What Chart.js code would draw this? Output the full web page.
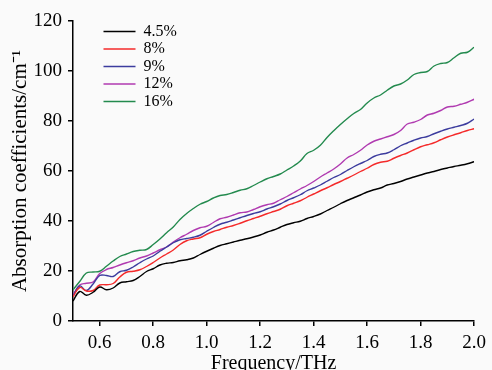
<!DOCTYPE html>
<html>
<head>
<meta charset="utf-8">
<script src="https://cdn.jsdelivr.net/npm/chart.js@4"></script>
<style>
  html, body { margin: 0; padding: 0; background: #fafafa; }
  #wrap { width: 492px; height: 370px; }
</style>
</head>
<body>
<div id="wrap"><canvas id="absorption-canvas"></canvas></div>
<script>
// Частота, THz
const freq = [
  0.5, 0.525, 0.55, 0.575, 0.6, 0.625, 0.65, 0.675, 0.7, 0.725, 0.75, 0.775, 0.8, 0.825, 0.85, 0.875, 0.9, 0.925, 0.95, 0.975, 1.0,
  1.025, 1.05, 1.075, 1.1, 1.125, 1.15, 1.175, 1.2, 1.225, 1.25, 1.275, 1.3, 1.325, 1.35, 1.375, 1.4, 1.425, 1.45, 1.475, 1.5,
  1.525, 1.55, 1.575, 1.6, 1.625, 1.65, 1.675, 1.7, 1.725, 1.75, 1.775, 1.8, 1.825, 1.85, 1.875, 1.9, 1.925, 1.95, 1.975, 2.0
];

const seriesLabels = ['4.5%', '8%', '9%', '12%', '16%'];

const abs45 = [
  8.0, 11.8, 10.3, 11.5, 13.6, 12.5, 13.2, 15.2, 15.7, 16.2, 17.8, 19.8, 20.9, 22.4, 23.1, 23.4, 24.1, 24.5, 25.2, 26.6, 27.9,
  29.1, 30.2, 30.9, 31.6, 32.3, 32.9, 33.6, 34.4, 35.5, 36.4, 37.5, 38.6, 39.3, 39.9, 41.0, 41.8, 42.8, 44.2, 45.5, 46.9,
  48.2, 49.3, 50.4, 51.6, 52.5, 53.2, 54.4, 55.0, 55.8, 56.8, 57.6, 58.4, 59.2, 59.8, 60.6, 61.2, 61.8, 62.3, 62.9, 63.7
];
const abs8 = [
  9.7, 13.4, 12.0, 12.2, 14.4, 14.5, 15.0, 17.6, 19.5, 19.9, 20.5, 21.8, 23.4, 25.2, 26.8, 28.4, 30.6, 32.1, 32.8, 33.3, 34.7,
  35.8, 36.6, 37.5, 38.2, 39.1, 40.1, 41.0, 41.9, 42.9, 43.8, 44.7, 46.1, 47.1, 48.1, 49.5, 50.8, 52.1, 53.3, 54.6, 55.8,
  57.1, 58.4, 59.8, 61.1, 62.6, 63.5, 63.9, 65.1, 66.2, 67.2, 68.5, 69.7, 70.5, 71.3, 72.5, 73.6, 74.5, 75.3, 76.2, 76.9
];
const abs9 = [
  10.0, 14.0, 12.2, 14.8, 18.2, 18.2, 17.8, 19.7, 20.3, 21.6, 23.3, 24.8, 26.0, 27.9, 29.6, 31.3, 32.5, 33.0, 33.5, 34.3, 35.9,
  37.4, 38.7, 39.5, 40.4, 41.3, 42.2, 43.0, 43.7, 44.8, 45.7, 46.8, 48.2, 49.3, 50.5, 52.1, 53.2, 54.4, 55.9, 57.4, 58.6,
  60.2, 61.7, 63.0, 64.2, 65.8, 66.7, 67.2, 68.5, 70.1, 71.2, 72.3, 73.2, 73.8, 74.9, 75.9, 76.8, 77.5, 78.2, 79.1, 80.8
];
const abs12 = [
  10.4, 14.4, 15.1, 15.6, 19.0, 20.6, 21.4, 22.4, 23.3, 24.1, 25.2, 26.0, 27.2, 28.5, 29.6, 31.6, 33.3, 34.7, 36.2, 37.3, 37.9,
  39.4, 40.9, 41.5, 42.4, 43.3, 43.6, 44.6, 45.7, 46.5, 47.1, 48.5, 49.8, 51.3, 52.8, 54.2, 55.8, 57.6, 59.2, 60.8, 62.8,
  65.2, 66.6, 68.3, 70.4, 71.9, 72.8, 73.7, 74.6, 76.2, 78.8, 79.5, 80.6, 82.4, 83.1, 84.2, 85.6, 85.9, 86.7, 87.5, 88.7
];
const abs16 = [
  12.5, 15.8, 19.2, 19.6, 19.9, 21.9, 24.0, 25.8, 26.8, 27.8, 28.3, 28.6, 30.6, 32.8, 35.3, 37.6, 40.6, 43.0, 45.0, 46.7, 47.8,
  49.2, 50.2, 50.6, 51.4, 52.3, 52.9, 54.2, 55.6, 56.9, 57.8, 58.8, 60.4, 62.0, 64.0, 67.0, 68.3, 70.3, 73.4, 76.1, 78.6,
  80.9, 83.0, 84.6, 87.2, 89.2, 90.4, 92.3, 94.0, 94.8, 96.4, 98.6, 99.4, 99.8, 102.0, 103.0, 103.4, 105.3, 107.1, 107.5, 109.5
];

const xTicks = [0.6, 0.8, 1.0, 1.2, 1.4, 1.6, 1.8, 2.0];

const colors = ['#000000', '#f42a2a', '#3c3c9e', '#b03ab0', '#238a4e'];
const allSeries = [abs45, abs8, abs9, abs12, abs16];

const serif = 'Liberation Serif';

// Легенда внутри области графика, слева сверху
const legendPos = {
  id: 'legendPos',
  afterLayout(chart) {
    const lg = chart.legend;
    if (!lg) return;
    lg.left = 102;
    lg.top = 22;
    lg.bottom = lg.top + lg.height;
    lg.right = lg.left + lg.width;
  }
};

const ctx = document.getElementById('absorption-canvas').getContext('2d');

window.absChart = new Chart(ctx, {
  type: 'line',
  data: {
    datasets: allSeries.map((vals, k) => ({
      label: seriesLabels[k],
      data: vals.map((v, i) => ({ x: freq[i], y: v })),
      borderColor: colors[k],
      backgroundColor: colors[k],
      borderWidth: 1.4,
      pointRadius: 0,
      tension: 0.4,
      fill: false
    }))
  },
  options: {
    responsive: true,
    maintainAspectRatio: false,
    animation: false,
    layout: { padding: { top: 21, right: 13, left: 0, bottom: 0 } },
    plugins: {
      tooltip: { enabled: false },
      legend: {
        position: 'chartArea',
        align: 'start',
        labels: {
          usePointStyle: true,
          pointStyle: 'line',
          pointStyleWidth: 32,
          padding: 1.5,
          color: '#000',
          font: { family: serif, size: 16 }
        }
      }
    },
    scales: {
      x: {
        type: 'linear',
        min: 0.5,
        max: 2.0,
        afterBuildTicks: (scale) => { scale.ticks = xTicks.map(v => ({ value: v })); },
        afterFit: (scale) => { scale.height = 49; },
        ticks: {
          color: '#000',
          padding: 6,
          font: { family: serif, size: 19 },
          callback: (v) => Number(v).toFixed(1)
        },
        grid: { drawOnChartArea: false, drawTicks: true, tickLength: 5, color: '#000', lineWidth: 1.5 },
        border: { display: true, color: '#000', width: 1.5 },
        title: {
          display: true,
          text: 'Frequency/THz',
          color: '#000',
          font: { family: serif, size: 20 },
          padding: { top: 0, bottom: -6 }
        }
      },
      y: {
        min: 0,
        max: 120,
        afterFit: (scale) => { scale.width = 73; },
        ticks: {
          stepSize: 20,
          color: '#000',
          padding: 6,
          font: { family: serif, size: 19 }
        },
        grid: { drawOnChartArea: false, drawTicks: true, tickLength: 5, color: '#000', lineWidth: 1.5 },
        border: { display: true, color: '#000', width: 1.5 },
        title: {
          display: true,
          text: 'Absorption coefficients/cm⁻¹',
          color: '#000',
          font: { family: serif, size: 21 },
          padding: { top: 8, bottom: 0 }
        }
      }
    }
  },
  plugins: [legendPos]
});
</script>
</body>
</html>
